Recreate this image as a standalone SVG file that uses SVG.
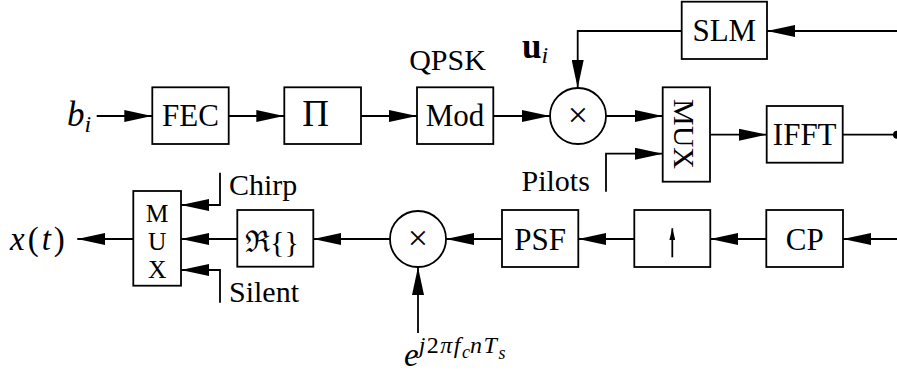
<svg xmlns="http://www.w3.org/2000/svg" width="897" height="375" viewBox="0 0 897 375">
<defs>
<marker id="ah" markerUnits="userSpaceOnUse" markerWidth="28" markerHeight="12" refX="28" refY="6" orient="auto"><path d="M0,0 L28,6 L0,12 z" fill="#000"/></marker>
<marker id="ahs" markerUnits="userSpaceOnUse" markerWidth="12" markerHeight="6" refX="12" refY="3" orient="auto"><path d="M0,0 L12,3 L0,6 z" fill="#000"/></marker>
<style>
.b{fill:#fff;stroke:#000;stroke-width:1.8}
.t{font-family:"Liberation Serif","Times New Roman",serif;font-size:31px;fill:#000}
.l{font-family:"Liberation Serif","Times New Roman",serif;font-size:30px;fill:#000}
.m{font-family:"Liberation Serif","Times New Roman",serif;font-style:italic;fill:#000}
.c line,.c polyline{fill:none;stroke:#000;stroke-width:1.8;marker-end:url(#ah)}
.c .n{marker-end:none}
</style>
</defs>
<rect width="897" height="375" fill="#fff"/>
<g id="fec"><rect class="b" x="152.3" y="87.3" width="76.4" height="56.7"/><text class="t" x="190.5" y="126" text-anchor="middle">FEC</text></g>
<g id="interleaver"><rect class="b" x="284.3" y="87.3" width="76.7" height="56.7"/><text class="t" x="315.5" y="126" text-anchor="middle" style="font-size:37px">Π</text></g>
<g id="mod"><rect class="b" x="417" y="87.3" width="76.3" height="56.7"/><text class="t" x="455" y="126" text-anchor="middle">Mod</text></g>
<g id="mult1"><circle class="b" cx="578" cy="116" r="28"/><text class="t" x="578" y="127" text-anchor="middle" style="font-size:36px">×</text></g>
<g id="mux1"><rect class="b" x="662.7" y="87.3" width="47.3" height="94.4"/><text class="t" transform="translate(673.5,134) rotate(90)" text-anchor="middle" style="font-size:30px">MUX</text></g>
<g id="ifft"><rect class="b" x="766.7" y="106" width="76" height="56.7"/><text class="t" x="804.7" y="145" text-anchor="middle">IFFT</text></g>
<g id="slm"><rect class="b" x="681.7" y="1.7" width="85.3" height="57.3"/><text class="t" x="724.3" y="41" text-anchor="middle">SLM</text></g>
<g id="cp"><rect class="b" x="766.3" y="210" width="76.7" height="57"/><text class="t" x="804.7" y="250" text-anchor="middle">CP</text></g>
<g id="upsample"><rect class="b" x="634.3" y="210" width="76" height="57"/><line x1="672.3" y1="257.3" x2="672.3" y2="228.3" stroke="#000" stroke-width="1.8" marker-end="url(#ahs)"/></g>
<g id="psf"><rect class="b" x="502" y="210" width="76.3" height="57"/><text class="t" x="540.2" y="250" text-anchor="middle">PSF</text></g>
<g id="mult2"><circle class="b" cx="418" cy="239" r="28"/><text class="t" x="418" y="250" text-anchor="middle" style="font-size:36px">×</text></g>
<g id="real"><rect class="b" x="237.3" y="210" width="76" height="56.7"/><text class="t" x="272" y="252" text-anchor="middle" style="font-size:30px">ℜ{}</text></g>
<g id="mux2"><rect class="b" x="133.3" y="191" width="47.7" height="94.7"/><text class="t" x="157.2" y="221.5" text-anchor="middle" style="font-size:25.5px">M</text><text class="t" x="157.2" y="249.5" text-anchor="middle" style="font-size:25.5px">U</text><text class="t" x="157.2" y="277.5" text-anchor="middle" style="font-size:25.5px">X</text></g>
<g id="labels">
<text class="m" x="67" y="126" style="font-size:35px">b<tspan dy="6" style="font-size:24px">i</tspan></text>
<text class="l" x="447.5" y="70" text-anchor="middle">QPSK</text>
<text x="522" y="57.5" style="font-family:'Liberation Serif',serif;font-weight:bold;font-size:35px">u<tspan class="m" dy="5" style="font-size:24px;font-weight:normal">i</tspan></text>
<text class="l" x="521.5" y="190.7">Pilots</text>
<text class="l" x="229" y="195">Chirp</text>
<text class="l" x="229" y="301.7">Silent</text>
<text class="m" x="10" y="250" style="font-size:33px;letter-spacing:3px">x<tspan style="font-style:normal">(</tspan>t<tspan style="font-style:normal">)</tspan></text>
<text class="m" x="404" y="366" style="font-size:33px">e<tspan dy="-13" style="font-size:24px;letter-spacing:1.5px">j<tspan style="font-style:normal">2</tspan>πf</tspan><tspan dy="5" style="font-size:18px">c</tspan><tspan dy="-5" style="font-size:24px;letter-spacing:1.5px">nT</tspan><tspan dy="6" style="font-size:18px">s</tspan></text>
</g>
<g id="connectors" class="c">
<line x1="96.7" y1="116" x2="152.3" y2="116"/>
<line x1="228.7" y1="116" x2="284.3" y2="116"/>
<line x1="361" y1="116" x2="417" y2="116"/>
<line x1="493.3" y1="116" x2="550" y2="116"/>
<line x1="606" y1="116" x2="662.7" y2="116"/>
<polyline points="606,191.7 606,153.7 662.7,153.7"/>
<line x1="710" y1="134.7" x2="766.7" y2="134.7"/>
<line class="n" x1="842.7" y1="134.7" x2="897" y2="134.7"/>
<line x1="897" y1="31" x2="767" y2="31"/>
<polyline points="681.7,31 577.7,31 577.7,88"/>
<line x1="897" y1="239" x2="843" y2="239"/>
<line x1="766.3" y1="239" x2="710.3" y2="239"/>
<line x1="634.3" y1="239" x2="578.3" y2="239"/>
<line x1="502" y1="239" x2="446" y2="239"/>
<line x1="418" y1="333" x2="418" y2="267"/>
<line x1="390" y1="239" x2="313.3" y2="239"/>
<line x1="237.3" y1="239" x2="181" y2="239"/>
<line x1="133.3" y1="239" x2="77.3" y2="239"/>
<polyline points="220,172.7 220,205 181,205"/>
<polyline points="220,302.7 220,270 181,270"/>
<circle cx="897" cy="134.7" r="4" fill="#000"/>
</g>
</svg>
